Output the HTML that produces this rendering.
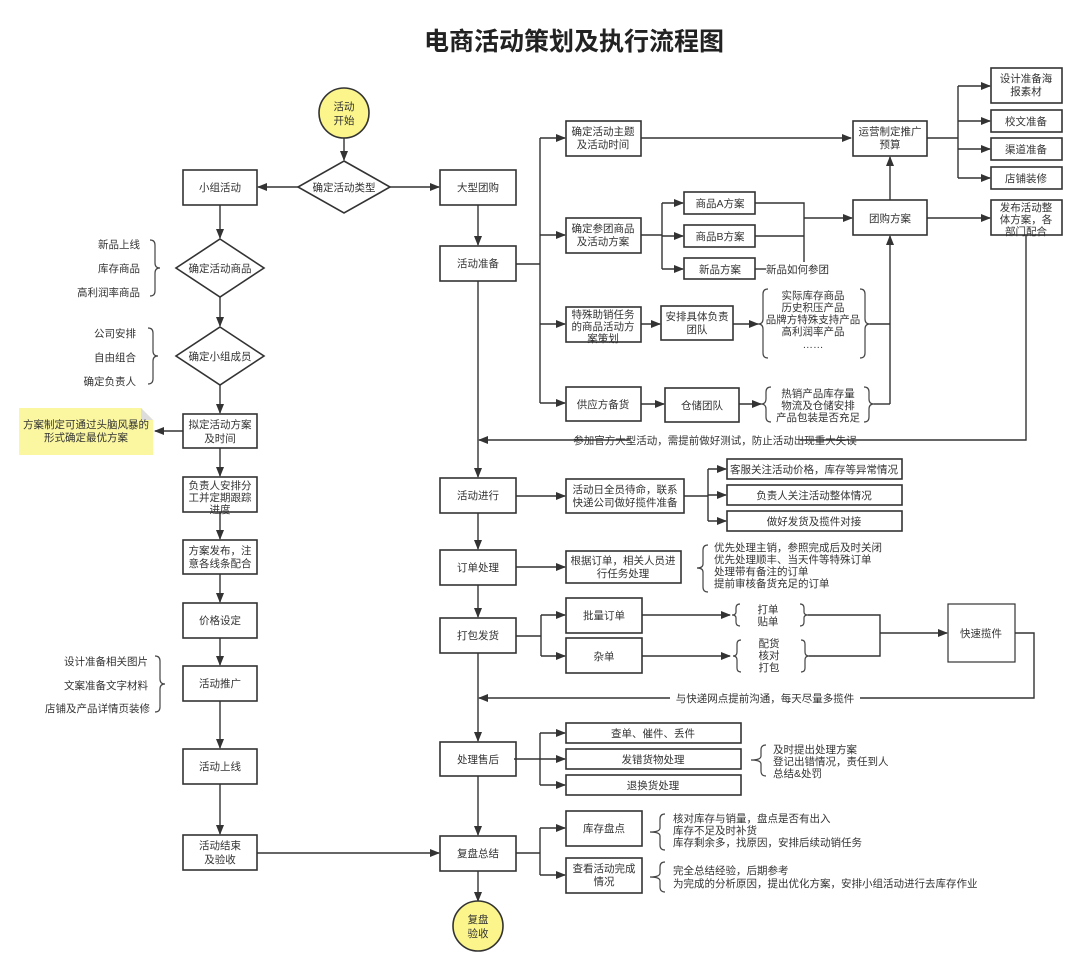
<!DOCTYPE html>
<html><head><meta charset="utf-8"><style>
html,body{margin:0;padding:0;background:#fff}
svg{display:block}
text{font-family:"Liberation Sans","Noto Sans CJK SC",sans-serif;fill:#333;font-size:10.5px}
.c{text-anchor:middle}
.r{text-anchor:end}
.b{fill:#fff;stroke:#333;stroke-width:1.6}
.l{fill:none;stroke:#333;stroke-width:1.4}
.br{fill:none;stroke:#444;stroke-width:1.2}
</style></head><body>
<svg width="1080" height="970" viewBox="0 0 1080 970" xmlns="http://www.w3.org/2000/svg">
<defs><marker id="a" markerWidth="10" markerHeight="8" refX="9" refY="4" orient="auto" markerUnits="userSpaceOnUse"><path d="M0,0 L10,4 L0,8 z" fill="#333"/></marker></defs>
<text x="574" y="50" class="c" style="font-size:25px;font-weight:bold;fill:#222">电商活动策划及执行流程图</text>

<!-- start -->
<circle cx="344" cy="113" r="25" fill="#fbf58c" stroke="#333" stroke-width="1.6"/>
<text x="344" y="110" class="c">活动</text><text x="344" y="124" class="c">开始</text>
<line x1="344" y1="138" x2="344" y2="160" class="l" marker-end="url(#a)"/>
<polygon points="344,161 390,187 344,213 298,187" class="b"/>
<text x="344" y="191" class="c">确定活动类型</text>
<line x1="298" y1="187" x2="258" y2="187" class="l" marker-end="url(#a)"/>
<line x1="390" y1="187" x2="439" y2="187" class="l" marker-end="url(#a)"/>

<!-- left column -->
<rect x="183" y="170" width="74" height="35" class="b"/><text x="220" y="191" class="c">小组活动</text>
<line x1="220" y1="205" x2="220" y2="238" class="l" marker-end="url(#a)"/>
<polygon points="220,239 264,268 220,297 176,268" class="b"/><text x="220" y="272" class="c">确定活动商品</text>
<line x1="220" y1="297" x2="220" y2="326" class="l" marker-end="url(#a)"/>
<polygon points="220,327 264,356 220,385 176,356" class="b"/><text x="220" y="360" class="c">确定小组成员</text>
<line x1="220" y1="385" x2="220" y2="413" class="l" marker-end="url(#a)"/>
<rect x="183" y="414" width="74" height="34" class="b"/><text x="220" y="428" class="c">拟定活动方案</text><text x="220" y="442" class="c">及时间</text>
<line x1="220" y1="448" x2="220" y2="476" class="l" marker-end="url(#a)"/>
<rect x="183" y="477" width="74" height="35" class="b"/><text x="220" y="489" class="c">负责人安排分</text><text x="220" y="501" class="c">工并定期跟踪</text><text x="220" y="513" class="c">进度</text>
<line x1="220" y1="512" x2="220" y2="539" class="l" marker-end="url(#a)"/>
<rect x="183" y="540" width="74" height="34" class="b"/><text x="220" y="554" class="c">方案发布，注</text><text x="220" y="567" class="c">意各线条配合</text>
<line x1="220" y1="574" x2="220" y2="602" class="l" marker-end="url(#a)"/>
<rect x="183" y="603" width="74" height="35" class="b"/><text x="220" y="624" class="c">价格设定</text>
<line x1="220" y1="638" x2="220" y2="665" class="l" marker-end="url(#a)"/>
<rect x="183" y="666" width="74" height="35" class="b"/><text x="220" y="687" class="c">活动推广</text>
<line x1="220" y1="701" x2="220" y2="748" class="l" marker-end="url(#a)"/>
<rect x="183" y="749" width="74" height="35" class="b"/><text x="220" y="770" class="c">活动上线</text>
<line x1="220" y1="784" x2="220" y2="834" class="l" marker-end="url(#a)"/>
<rect x="183" y="835" width="74" height="35" class="b"/><text x="220" y="849" class="c">活动结束</text><text x="220" y="863" class="c">及验收</text>
<line x1="257" y1="853" x2="439" y2="853" class="l" marker-end="url(#a)"/>

<!-- left braces -->
<text x="140" y="248" class="r">新品上线</text><text x="140" y="272" class="r">库存商品</text><text x="140" y="296" class="r">高利润率商品</text>
<path d="M150,240 q5,0 5,5 v18 q0,5 5,5 q-5,0 -5,5 v18 q0,5 -5,5" class="br"/>
<text x="136" y="337" class="r">公司安排</text><text x="136" y="361" class="r">自由组合</text><text x="136" y="385" class="r">确定负责人</text>
<path d="M148,328 q5,0 5,5 v18 q0,5 5,5 q-5,0 -5,5 v18 q0,5 -5,5" class="br"/>
<text x="148" y="665" class="r">设计准备相关图片</text><text x="148" y="689" class="r">文案准备文字材料</text><text x="150" y="712" class="r">店铺及产品详情页装修</text>
<path d="M155,656 q5,0 5,5 v18 q0,5 5,5 q-5,0 -5,5 v18 q0,5 -5,5" class="br"/>

<!-- note -->
<path d="M19,408 L141,408 L153,420 L153,455 L19,455 z" fill="#fbf7a0"/>
<path d="M141,408 L141,420 L153,420 z" fill="#ddd"/>
<text x="86" y="428" class="c">方案制定可通过头脑风暴的</text><text x="86" y="441" class="c">形式确定最优方案</text>
<line x1="183" y1="431" x2="155" y2="431" class="l" marker-end="url(#a)"/>

<!-- right main column -->
<rect x="440" y="170" width="76" height="35" class="b"/><text x="478" y="191" class="c">大型团购</text>
<line x1="478" y1="205" x2="478" y2="245" class="l" marker-end="url(#a)"/>
<rect x="440" y="246" width="76" height="35" class="b"/><text x="478" y="267" class="c">活动准备</text>
<line x1="478" y1="281" x2="478" y2="477" class="l" marker-end="url(#a)"/>
<rect x="440" y="478" width="76" height="35" class="b"/><text x="478" y="499" class="c">活动进行</text>
<line x1="478" y1="513" x2="478" y2="549" class="l" marker-end="url(#a)"/>
<rect x="440" y="550" width="76" height="35" class="b"/><text x="478" y="571" class="c">订单处理</text>
<line x1="478" y1="585" x2="478" y2="617" class="l" marker-end="url(#a)"/>
<rect x="440" y="618" width="76" height="35" class="b"/><text x="478" y="639" class="c">打包发货</text>
<line x1="478" y1="653" x2="478" y2="741" class="l" marker-end="url(#a)"/>
<rect x="440" y="742" width="76" height="34" class="b"/><text x="478" y="763" class="c">处理售后</text>
<line x1="478" y1="776" x2="478" y2="835" class="l" marker-end="url(#a)"/>
<rect x="440" y="836" width="76" height="35" class="b"/><text x="478" y="857" class="c">复盘总结</text>
<line x1="478" y1="871" x2="478" y2="901" class="l" marker-end="url(#a)"/>
<circle cx="478" cy="926" r="25" fill="#fbf58c" stroke="#333" stroke-width="1.6"/>
<text x="478" y="923" class="c">复盘</text><text x="478" y="937" class="c">验收</text>

<!-- 活动准备 branches -->
<line x1="516" y1="264" x2="540" y2="264" class="l"/>
<line x1="540" y1="138" x2="540" y2="403" class="l"/>
<line x1="540" y1="138" x2="565" y2="138" class="l" marker-end="url(#a)"/>
<line x1="540" y1="235" x2="565" y2="235" class="l" marker-end="url(#a)"/>
<line x1="540" y1="324" x2="565" y2="324" class="l" marker-end="url(#a)"/>
<line x1="540" y1="403" x2="565" y2="403" class="l" marker-end="url(#a)"/>
<rect x="566" y="121" width="75" height="35" class="b"/><text x="603" y="135" class="c">确定活动主题</text><text x="603" y="148" class="c">及活动时间</text>
<line x1="641" y1="138" x2="851" y2="138" class="l" marker-end="url(#a)"/>
<rect x="566" y="218" width="75" height="35" class="b"/><text x="603" y="232" class="c">确定参团商品</text><text x="603" y="245" class="c">及活动方案</text>
<line x1="641" y1="235" x2="662" y2="235" class="l"/>
<line x1="662" y1="203" x2="662" y2="269" class="l"/>
<line x1="662" y1="203" x2="683" y2="203" class="l" marker-end="url(#a)"/>
<line x1="662" y1="236" x2="683" y2="236" class="l" marker-end="url(#a)"/>
<line x1="662" y1="269" x2="683" y2="269" class="l" marker-end="url(#a)"/>
<rect x="684" y="192" width="71" height="22" class="b"/><text x="720" y="207" class="c">商品A方案</text>
<rect x="684" y="225" width="71" height="22" class="b"/><text x="720" y="240" class="c">商品B方案</text>
<rect x="684" y="258" width="71" height="21" class="b"/><text x="720" y="273" class="c">新品方案</text>
<line x1="755" y1="269" x2="766" y2="269" class="l"/>
<text x="766" y="273">新品如何参团</text>
<polyline points="755,203 804,203 804,262" class="l"/>
<line x1="755" y1="236" x2="804" y2="236" class="l"/>
<line x1="804" y1="218" x2="852" y2="218" class="l" marker-end="url(#a)"/>

<rect x="566" y="307" width="75" height="35" class="b"/><text x="603" y="318" class="c">特殊助销任务</text><text x="603" y="330" class="c">的商品活动方</text><text x="603" y="342" class="c">案策划</text>
<line x1="641" y1="324" x2="660" y2="324" class="l" marker-end="url(#a)"/>
<rect x="661" y="306" width="72" height="34" class="b"/><text x="697" y="320" class="c">安排具体负责</text><text x="697" y="333" class="c">团队</text>
<line x1="733" y1="324" x2="758" y2="324" class="l" marker-end="url(#a)"/>
<path d="M768,289 q-5,0 -5,5 v25 q0,5 -5,5 q5,0 5,5 v24 q0,5 5,5" class="br"/>
<path d="M860,289 q5,0 5,5 v25 q0,5 5,5 q-5,0 -5,5 v24 q0,5 -5,5" class="br"/>
<text x="813" y="299" class="c">实际库存商品</text><text x="813" y="311" class="c">历史积压产品</text><text x="813" y="323" class="c">品牌方特殊支持产品</text><text x="813" y="335" class="c">高利润率产品</text><text x="813" y="348" class="c">……</text>
<line x1="870" y1="324" x2="890" y2="324" class="l"/>

<rect x="566" y="387" width="75" height="34" class="b"/><text x="603" y="408" class="c">供应方备货</text>
<line x1="641" y1="404" x2="664" y2="404" class="l" marker-end="url(#a)"/>
<rect x="665" y="388" width="74" height="34" class="b"/><text x="702" y="409" class="c">仓储团队</text>
<line x1="739" y1="404" x2="761" y2="404" class="l" marker-end="url(#a)"/>
<path d="M771,387 q-5,0 -5,5 v7 q0,5 -5,5 q5,0 5,5 v8 q0,5 5,5" class="br"/>
<path d="M864,387 q5,0 5,5 v7 q0,5 5,5 q-5,0 -5,5 v8 q0,5 -5,5" class="br"/>
<text x="818" y="397" class="c">热销产品库存量</text><text x="818" y="409" class="c">物流及仓储安排</text><text x="818" y="421" class="c">产品包装是否充足</text>
<line x1="874" y1="404" x2="890" y2="404" class="l"/>
<line x1="890" y1="404" x2="890" y2="236" class="l" marker-end="url(#a)"/>

<rect x="853" y="121" width="74" height="35" class="b"/><text x="890" y="135" class="c">运营制定推广</text><text x="890" y="148" class="c">预算</text>
<rect x="853" y="200" width="74" height="35" class="b"/><text x="890" y="222" class="c">团购方案</text>
<line x1="890" y1="200" x2="890" y2="157" class="l" marker-end="url(#a)"/>
<line x1="927" y1="138" x2="958" y2="138" class="l"/>
<line x1="958" y1="86" x2="958" y2="178" class="l"/>
<line x1="958" y1="86" x2="990" y2="86" class="l" marker-end="url(#a)"/>
<line x1="958" y1="121" x2="990" y2="121" class="l" marker-end="url(#a)"/>
<line x1="958" y1="149" x2="990" y2="149" class="l" marker-end="url(#a)"/>
<line x1="958" y1="178" x2="990" y2="178" class="l" marker-end="url(#a)"/>
<rect x="991" y="68" width="71" height="35" class="b"/><text x="1026" y="82" class="c">设计准备海</text><text x="1026" y="95" class="c">报素材</text>
<rect x="991" y="110" width="71" height="22" class="b"/><text x="1026" y="125" class="c">校文准备</text>
<rect x="991" y="138" width="71" height="22" class="b"/><text x="1026" y="153" class="c">渠道准备</text>
<rect x="991" y="167" width="71" height="22" class="b"/><text x="1026" y="182" class="c">店铺装修</text>
<line x1="927" y1="218" x2="990" y2="218" class="l" marker-end="url(#a)"/>
<rect x="991" y="200" width="71" height="35" class="b"/><text x="1026" y="211" class="c">发布活动整</text><text x="1026" y="223" class="c">体方案，各</text><text x="1026" y="235" class="c">部门配合</text>
<polyline points="1026,235 1026,440 800,440" class="l"/>
<line x1="630" y1="440" x2="479" y2="440" class="l" marker-end="url(#a)"/>
<text x="715" y="444" class="c">参加官方大型活动，需提前做好测试，防止活动出现重大失误</text>

<!-- 活动进行 -->
<line x1="516" y1="496" x2="565" y2="496" class="l" marker-end="url(#a)"/>
<rect x="566" y="479" width="118" height="34" class="b"/><text x="625" y="493" class="c">活动日全员待命，联系</text><text x="625" y="506" class="c">快递公司做好揽件准备</text>
<line x1="684" y1="496" x2="708" y2="496" class="l"/>
<line x1="708" y1="469" x2="708" y2="521" class="l"/>
<line x1="708" y1="469" x2="726" y2="469" class="l" marker-end="url(#a)"/>
<line x1="708" y1="495" x2="726" y2="495" class="l" marker-end="url(#a)"/>
<line x1="708" y1="521" x2="726" y2="521" class="l" marker-end="url(#a)"/>
<rect x="727" y="459" width="175" height="20" class="b"/><text x="814" y="473" class="c">客服关注活动价格，库存等异常情况</text>
<rect x="727" y="485" width="175" height="20" class="b"/><text x="814" y="499" class="c">负责人关注活动整体情况</text>
<rect x="727" y="511" width="175" height="20" class="b"/><text x="814" y="525" class="c">做好发货及揽件对接</text>

<!-- 订单处理 -->
<line x1="516" y1="567" x2="565" y2="567" class="l" marker-end="url(#a)"/>
<rect x="566" y="551" width="115" height="32" class="b"/><text x="623" y="564" class="c">根据订单，相关人员进</text><text x="623" y="577" class="c">行任务处理</text>
<path d="M708,545 q-5,0 -5,5 v14 q0,4 -6,4 q6,0 6,4 v15 q0,5 5,5" class="br"/>
<text x="714" y="551">优先处理主销，参照完成后及时关闭</text><text x="714" y="563">优先处理顺丰、当天件等特殊订单</text><text x="714" y="575">处理带有备注的订单</text><text x="714" y="587">提前审核备货充足的订单</text>

<!-- 打包发货 -->
<line x1="516" y1="636" x2="541" y2="636" class="l"/>
<line x1="541" y1="615" x2="541" y2="656" class="l"/>
<line x1="541" y1="615" x2="565" y2="615" class="l" marker-end="url(#a)"/>
<line x1="541" y1="656" x2="565" y2="656" class="l" marker-end="url(#a)"/>
<rect x="566" y="598" width="76" height="35" class="b"/><text x="604" y="619" class="c">批量订单</text>
<rect x="566" y="638" width="76" height="35" class="b"/><text x="604" y="660" class="c">杂单</text>
<line x1="642" y1="615" x2="730" y2="615" class="l" marker-end="url(#a)"/>
<line x1="642" y1="656" x2="730" y2="656" class="l" marker-end="url(#a)"/>
<path d="M740,604 q-4,0 -4,4 v4 q0,3 -4,3 q4,0 4,3 v4 q0,4 4,4" class="br"/>
<path d="M800,604 q4,0 4,4 v4 q0,3 4,3 q-4,0 -4,3 v4 q0,4 -4,4" class="br"/>
<text x="768" y="613" class="c">打单</text><text x="768" y="625" class="c">贴单</text>
<path d="M741,640 q-4,0 -4,4 v8 q0,4 -4,4 q4,0 4,4 v8 q0,4 4,4" class="br"/>
<path d="M801,640 q4,0 4,4 v8 q0,4 4,4 q-4,0 -4,4 v8 q0,4 -4,4" class="br"/>
<text x="769" y="647" class="c">配货</text><text x="769" y="659" class="c">核对</text><text x="769" y="671" class="c">打包</text>
<polyline points="808,615 880,615 880,656 809,656" class="l"/>
<line x1="880" y1="633" x2="947" y2="633" class="l" marker-end="url(#a)"/>
<rect x="948" y="604" width="67" height="58" class="b" style="stroke-width:1.2"/><text x="981" y="637" class="c">快速揽件</text>
<polyline points="1015,633 1034,633 1034,698 860,698" class="l"/>
<line x1="670" y1="698" x2="479" y2="698" class="l" marker-end="url(#a)"/>
<text x="765" y="702" class="c">与快递网点提前沟通，每天尽量多揽件</text>

<!-- 处理售后 -->
<line x1="514" y1="759" x2="540" y2="759" class="l"/>
<line x1="540" y1="733" x2="540" y2="785" class="l"/>
<line x1="540" y1="733" x2="565" y2="733" class="l" marker-end="url(#a)"/>
<line x1="540" y1="759" x2="565" y2="759" class="l" marker-end="url(#a)"/>
<line x1="540" y1="785" x2="565" y2="785" class="l" marker-end="url(#a)"/>
<rect x="566" y="723" width="175" height="20" class="b"/><text x="653" y="737" class="c">查单、催件、丢件</text>
<rect x="566" y="749" width="175" height="20" class="b"/><text x="653" y="763" class="c">发错货物处理</text>
<rect x="566" y="775" width="175" height="20" class="b"/><text x="653" y="789" class="c">退换货处理</text>
<path d="M766,745 q-5,0 -5,5 v6 q0,4 -10,4 q10,0 10,4 v7 q0,5 5,5" class="br"/>
<text x="773" y="753">及时提出处理方案</text><text x="773" y="765">登记出错情况，责任到人</text><text x="773" y="777">总结&amp;处罚</text>

<!-- 复盘总结 -->
<line x1="516" y1="853" x2="540" y2="853" class="l"/>
<line x1="540" y1="828" x2="540" y2="875" class="l"/>
<line x1="540" y1="828" x2="565" y2="828" class="l" marker-end="url(#a)"/>
<line x1="540" y1="875" x2="565" y2="875" class="l" marker-end="url(#a)"/>
<rect x="566" y="811" width="76" height="35" class="b"/><text x="604" y="832" class="c">库存盘点</text>
<rect x="566" y="858" width="76" height="35" class="b"/><text x="604" y="872" class="c">查看活动完成</text><text x="604" y="885" class="c">情况</text>
<path d="M665,814 q-5,0 -5,5 v9 q0,4 -10,4 q10,0 10,4 v9 q0,5 5,5" class="br"/>
<text x="673" y="822">核对库存与销量，盘点是否有出入</text><text x="673" y="834">库存不足及时补货</text><text x="673" y="846">库存剩余多，找原因，安排后续动销任务</text>
<path d="M665,862 q-5,0 -5,5 v6 q0,4 -10,4 q10,0 10,4 v6 q0,5 5,5" class="br"/>
<text x="673" y="874">完全总结经验，后期参考</text><text x="673" y="887">为完成的分析原因，提出优化方案，安排小组活动进行去库存作业</text>
</svg>
</body></html>
